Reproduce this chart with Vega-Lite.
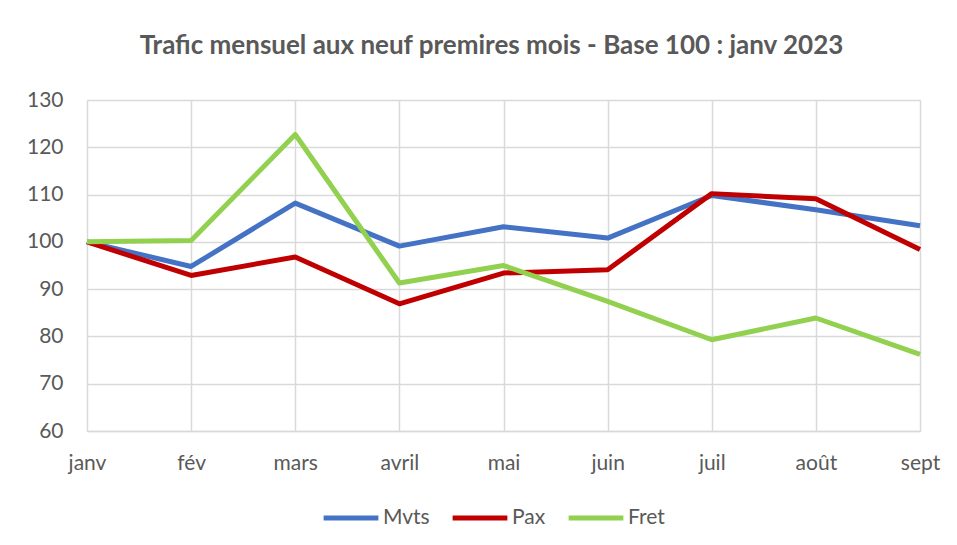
{
  "$schema": "https://vega.github.io/schema/vega-lite/v6.json",
  "width": 833,
  "height": 331,
  "autosize": {"type": "none"},
  "padding": {"left": 87, "top": 100, "right": 37, "bottom": 114},
  "background": "white",
  "title": {
    "text": "Trafic mensuel aux neuf premires mois - Base 100 : janv 2023",
    "font": "Lato",
    "fontSize": 26,
    "fontWeight": "bold",
    "color": "#595959",
    "anchor": "middle",
    "dx": -12,
    "offset": 30
  },
  "config": {
    "view": {"stroke": null},
    "font": "Lato"
  },
  "data": {
    "values": [
      {"mois": "janv", "serie": "Mvts", "valeur": 100},
      {"mois": "fév", "serie": "Mvts", "valeur": 94.8},
      {"mois": "mars", "serie": "Mvts", "valeur": 108.2},
      {"mois": "avril", "serie": "Mvts", "valeur": 99.1},
      {"mois": "mai", "serie": "Mvts", "valeur": 103.2},
      {"mois": "juin", "serie": "Mvts", "valeur": 100.8},
      {"mois": "juil", "serie": "Mvts", "valeur": 109.8},
      {"mois": "août", "serie": "Mvts", "valeur": 106.8},
      {"mois": "sept", "serie": "Mvts", "valeur": 103.4},
      {"mois": "janv", "serie": "Pax", "valeur": 100},
      {"mois": "fév", "serie": "Pax", "valeur": 92.9},
      {"mois": "mars", "serie": "Pax", "valeur": 96.8},
      {"mois": "avril", "serie": "Pax", "valeur": 86.9},
      {"mois": "mai", "serie": "Pax", "valeur": 93.4},
      {"mois": "juin", "serie": "Pax", "valeur": 94.1},
      {"mois": "juil", "serie": "Pax", "valeur": 110.2},
      {"mois": "août", "serie": "Pax", "valeur": 109.1},
      {"mois": "sept", "serie": "Pax", "valeur": 98.4},
      {"mois": "janv", "serie": "Fret", "valeur": 100},
      {"mois": "fév", "serie": "Fret", "valeur": 100.3},
      {"mois": "mars", "serie": "Fret", "valeur": 122.7},
      {"mois": "avril", "serie": "Fret", "valeur": 91.3},
      {"mois": "mai", "serie": "Fret", "valeur": 95.0},
      {"mois": "juin", "serie": "Fret", "valeur": 87.4},
      {"mois": "juil", "serie": "Fret", "valeur": 79.3},
      {"mois": "août", "serie": "Fret", "valeur": 83.9},
      {"mois": "sept", "serie": "Fret", "valeur": 76.2}
    ]
  },
  "mark": {"type": "line", "strokeWidth": 5, "strokeJoin": "round"},
  "encoding": {
    "x": {
      "field": "mois",
      "type": "ordinal",
      "sort": ["janv", "fév", "mars", "avril", "mai", "juin", "juil", "août", "sept"],
      "scale": {"type": "point", "padding": 0},
      "axis": {
        "title": null,
        "labelAngle": 0,
        "labelFont": "Lato",
        "labelFontSize": 21,
        "labelColor": "#595959",
        "labelPadding": 21,
        "ticks": false,
        "grid": true,
        "gridColor": "#d9d9d9",
        "gridWidth": 1.5,
        "domainColor": "#d9d9d9",
        "domainWidth": 1.5
      }
    },
    "y": {
      "field": "valeur",
      "type": "quantitative",
      "scale": {"domain": [60, 130], "nice": false, "zero": false},
      "axis": {
        "title": null,
        "values": [60, 70, 80, 90, 100, 110, 120, 130],
        "labelFont": "Lato",
        "labelFontSize": 21,
        "labelColor": "#595959",
        "labelPadding": 24,
        "ticks": false,
        "domain": false,
        "grid": true,
        "gridColor": "#d9d9d9",
        "gridWidth": 1.5
      }
    },
    "color": {
      "field": "serie",
      "type": "nominal",
      "sort": ["Mvts", "Pax", "Fret"],
      "scale": {"domain": ["Mvts", "Pax", "Fret"], "range": ["#4472C4", "#C00000", "#92D050"]},
      "legend": {
        "title": null,
        "orient": "none",
        "direction": "horizontal",
        "legendX": 234,
        "legendY": 388,
        "symbolType": "stroke",
        "symbolStrokeWidth": 5,
        "symbolSize": 3000,
        "labelFont": "Lato",
        "labelFontSize": 21,
        "labelColor": "#595959",
        "labelOffset": 2,
        "columnPadding": 12
      }
    }
  }
}
